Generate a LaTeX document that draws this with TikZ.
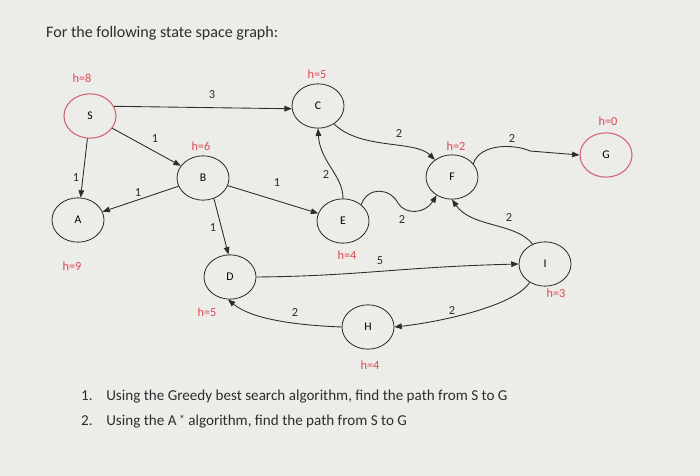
\documentclass[tikz,border=0pt]{standalone}
\usepackage{fontspec}
\setmainfont{Carlito}
\usepackage{tikz}
\usetikzlibrary{arrows.meta,shapes.geometric}
\usepackage{xcolor}
\definecolor{paper}{RGB}{236,236,233}
\definecolor{hred}{RGB}{222,72,82}
\definecolor{ringred}{RGB}{212,96,108}
\definecolor{ink}{RGB}{45,45,45}
\tikzset{
  state/.style={ellipse,draw=ink,line width=0.7pt,minimum width=1.56cm,
                minimum height=1.33cm,inner sep=0pt,font=\fontsize{10}{11}\selectfont},
  endstate/.style={state,draw=ringred,line width=0.9pt},
  heur/.style={text=hred,font=\fontsize{10.5}{12}\selectfont,inner sep=0pt},
  wt/.style={text=ink,font=\fontsize{10.5}{12}\selectfont,inner sep=0pt},
  edge/.style={-{Triangle[length=2.2mm,width=1.7mm]},line width=0.75pt,ink},
}

\begin{document}
\begin{tikzpicture}[x=0.03cm,y=-0.03cm]
    \fill[paper] (0,0) rectangle (700,476);
    \useasboundingbox (0,0) rectangle (700,476);

    \node[anchor=west,font=\fontsize{13.7}{15}\selectfont,text=ink,inner sep=0pt]
      (title) at (46,33) {For the following state space graph:};

    % states
    \node[endstate] (S) at (90,116)  {S};
    \node[state]    (C) at (318,106) {C};
    \node[state]    (B) at (203,178) {B};
    \node[state]    (A) at (78,220)  {A};
    \node[state]    (E) at (343,221) {E};
    \node[state]    (F) at (452,177) {F};
    \node[endstate] (G) at (606,155) {G};
    \node[state]    (D) at (230,277) {D};
    \node[state]    (I) at (545,264) {I};
    \node[state]    (H) at (368,327) {H};

    % heuristics
    \node[heur] (hS) at (82,78)   {h=8};
    \node[heur] (hC) at (317,74)  {h=5};
    \node[heur] (hB) at (201,146) {h=6};
    \node[heur] (hA) at (72,266)  {h=9};
    \node[heur] (hE) at (347,255) {h=4};
    \node[heur] (hF) at (456,146) {h=2};
    \node[heur] (hG) at (608,121) {h=0};
    \node[heur] (hD) at (207,312) {h=5};
    \node[heur] (hI) at (556,293) {h=3};
    \node[heur] (hH) at (370,365) {h=4};

    % straight edges
    \draw[edge] (S.22) -- (C.186);
    \draw[edge] (S) -- (B);
    \draw[edge] (S) -- (A);
    \draw[edge] (B) -- (A);
    \draw[edge] (B) -- (E);
    \draw[edge] (B.-62) -- (D.94);

    % curved edges
    \draw[edge] (E.north) .. controls (343,175) and (320,162) .. (C.south);
    \draw[edge] (C.-48) .. controls (360,150) and (415,140) .. (F.135);
    \draw[edge] (E.42) .. controls (368,186) and (390,188) .. (398,203)
                .. controls (405,215) and (425,214) .. (F.-130);
    \draw[edge] (F.32) .. controls (480,143) and (515,144) .. (530,151) -- (G.west);
    \draw[edge] (I.122) .. controls (515,222) and (472,228) .. (F.south);
    \draw[edge] (D.east) .. controls (360,276) and (400,267) .. (I.west);
    \draw[edge] (I.-130) .. controls (515,306) and (440,322) .. (H.east);
    \draw[edge] (H.west) .. controls (290,325) and (250,318) .. (D.-95);

    % weights
    \node[wt] (wSC) at (212,95)  {3};
    \node[wt] (wSB) at (155,139) {1};
    \node[wt] (wSA) at (76,178)  {1};
    \node[wt] (wBA) at (138,193) {1};
    \node[wt] (wBE) at (277,183) {1};
    \node[wt] (wBD) at (213,228) {1};
    \node[wt] (wEC) at (326,175) {2};
    \node[wt] (wCF) at (399,134) {2};
    \node[wt] (wEF) at (402,220) {2};
    \node[wt] (wFG) at (512,139) {2};
    \node[wt] (wIF) at (509,218) {2};
    \node[wt] (wDI) at (380,261) {5};
    \node[wt] (wIH) at (452,311) {2};
    \node[wt] (wHD) at (295,313) {2};

    % questions
    \node[anchor=west,font=\fontsize{12.9}{15}\selectfont,text=ink,inner sep=0pt]
      (q1) at (81,397) {1.\hspace{0.9em}Using the Greedy best search algorithm, find the path from S to G};
    \node[anchor=west,font=\fontsize{12.9}{15}\selectfont,text=ink,inner sep=0pt]
      (q2) at (81,422) {2.\hspace{0.9em}Using the A\,{\fontsize{10}{11}\selectfont\raisebox{0.35ex}{*}}
        algorithm, find the path from S to G};

  \end{tikzpicture}
\end{document}
